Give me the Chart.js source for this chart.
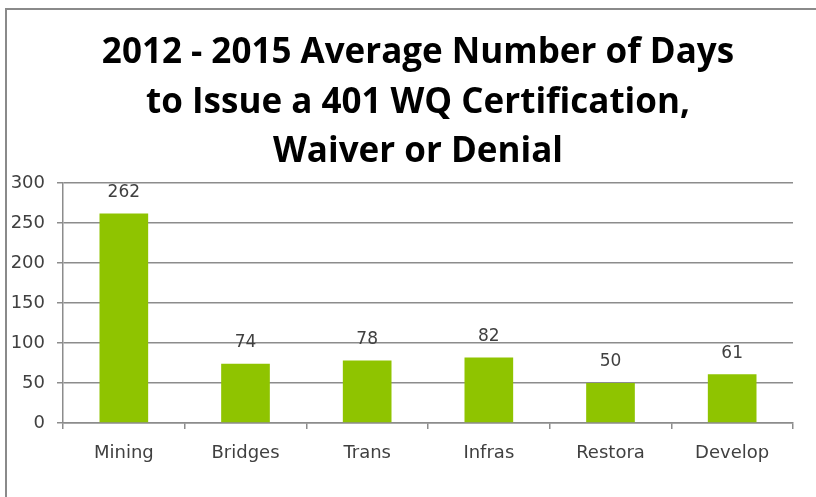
<!DOCTYPE html>
<html>
<head>
<meta charset="utf-8">
<script src="https://cdn.jsdelivr.net/npm/chart.js@4/dist/chart.umd.min.js"></script>
<style>
  html, body { margin: 0; padding: 0; background: #fff; }
  #wrap { position: relative; width: 816px; height: 497px; overflow: hidden; }
  #frame { position: absolute; left: 5px; top: 8px; width: 830px; height: 520px;
           border-left: 2px solid #8a8a8a; border-top: 2px solid #8a8a8a; box-sizing: border-box; }
  canvas { position: absolute; left: 0; top: 0; }
</style>
</head>
<body>
<div id="wrap">
  <div id="frame"></div>
  <canvas id="c" width="816" height="497"></canvas>
</div>
<script>
const categories = ["Mining", "Bridges", "Trans", "Infras", "Restora", "Develop"];
const avgDays = [262, 74, 78, 82, 50, 61];
const titleLines = ["2012 - 2015 Average Number of Days", "to Issue a 401 WQ Certification,", "Waiver or Denial"];
const yTicksMax = 300;
const yTickStep = 50;

const valueLabels = {
  id: 'valueLabels',
  afterDatasetsDraw(chart) {
    const ctx = chart.ctx;
    const meta = chart.getDatasetMeta(0);
    ctx.save();
    ctx.font = '17px "DejaVu Sans"';
    ctx.fillStyle = '#404040';
    ctx.textAlign = 'center';
    ctx.textBaseline = 'middle';
    meta.data.forEach((bar, i) => {
      ctx.fillText(String(chart.data.datasets[0].data[i]), bar.x, bar.y - 21);
    });
    ctx.restore();
  }
};

const chartTitle = {
  id: 'chartTitle',
  afterDraw(chart) {
    const ctx = chart.ctx;
    ctx.save();
    ctx.font = 'bold 35px "Open Sans"';
    ctx.fillStyle = '#000';
    ctx.textAlign = 'center';
    ctx.textBaseline = 'alphabetic';
    const cx = 418;
    titleLines.forEach((line, i) => {
      ctx.fillText(line, cx, 63 + i * 49.5);
    });
    ctx.restore();
  }
};

new Chart(document.getElementById('c'), {
  type: 'bar',
  data: {
    labels: categories,
    datasets: [{
      data: avgDays,
      backgroundColor: '#8fc400',
      borderWidth: 0,
      barPercentage: 0.4,
      categoryPercentage: 1.0
    }]
  },
  options: {
    responsive: false,
    animation: false,
    layout: { padding: { left: 1, right: 23, top: 183, bottom: 0 } },
    plugins: {
      legend: { display: false },
      tooltip: { enabled: false },
      title: { display: false }
    },
    scales: {
      x: {
        grid: { drawOnChartArea: false, drawTicks: true, tickLength: 6, color: '#8c8c8c', lineWidth: 1.5 },
        border: { color: '#8c8c8c', width: 1.5 },
        ticks: { color: '#404040', font: { family: '"DejaVu Sans"', size: 18 }, padding: 14, maxRotation: 0 },
        afterFit(scale) { scale.height = 74; }
      },
      y: {
        min: 0,
        max: yTicksMax,
        ticks: { stepSize: yTickStep, color: '#404040', font: { family: '"DejaVu Sans"', size: 18 }, padding: 12 },
        grid: { color: '#8c8c8c', lineWidth: 1.5, tickLength: 6 },
        border: { color: '#8c8c8c', width: 1.5 },
        afterFit(scale) { scale.width = 62; }
      }
    }
  },
  plugins: [valueLabels, chartTitle]
});
</script>
</body>
</html>
